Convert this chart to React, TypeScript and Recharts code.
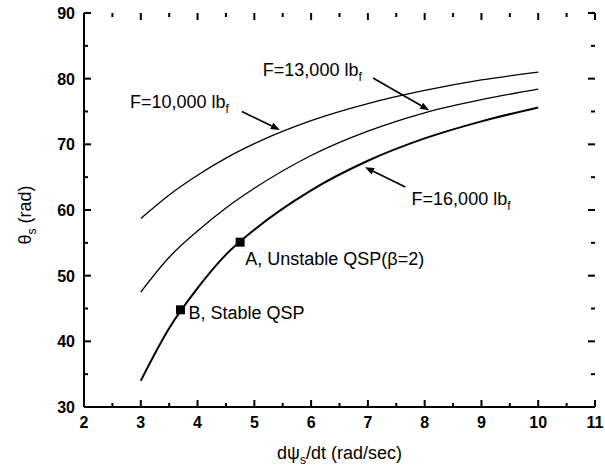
import React from 'react';
import { LineChart, Line, XAxis, YAxis, ReferenceDot, ReferenceLine } from 'recharts';

const FONT = "'Liberation Sans', Arial, Helvetica, sans-serif";

// Shaft angular rate dψs/dt (rad/sec)
const xValues = [3, 3.5, 4, 4.5, 5, 6, 7, 8, 9, 10];
// θs (rad) for each thrust level
const f10000 = [58.7, 62.3, 65.3, 67.9, 70.1, 73.6, 76.2, 78.2, 79.8, 81.0];
const f13000 = [47.5, 52.8, 56.8, 60.3, 63.3, 68.3, 72.0, 74.8, 76.8, 78.4];
const f16000 = [34.0, 42.0, 48.1, 53.2, 57.0, 63.0, 67.5, 70.9, 73.5, 75.6];

const X_MIN = 2;
const X_MAX = 11;
const Y_MIN = 30;
const Y_MAX = 90;
const xMajorTicks = [2, 3, 4, 5, 6, 7, 8, 9, 10, 11];
const xMinorTicks = [2.5, 3.5, 4.5, 5.5, 6.5, 7.5, 8.5, 9.5, 10.5];
const yMajorTicks = [30, 40, 50, 60, 70, 80, 90];
const yMinorTicks = [35, 45, 55, 65, 75, 85];

// QSP points on the F=16,000 curve
const qspX = [4.75, 3.7];
const qspY = [55.1, 44.8];

// Annotation labels
const labelText = ['F=10,000 lb', 'F=13,000 lb', 'F=16,000 lb', 'A, Unstable QSP(β=2)', 'B, Stable QSP'];
const labelSub = ['f', 'f', 'f', '', ''];
const labelX = [2.81, 5.15, 7.77, 4.84, 3.84];
const labelY = [76.4, 81.3, 61.7, 52.5, 44.3];

// Arrows in data units
const arrowStart = [
  [4.78, 75.0],
  [7.09, 80.1],
  [7.66, 63.5],
];
const arrowEnd = [
  [5.45, 72.2],
  [8.08, 75.2],
  [6.95, 66.5],
];

const tableData = xValues.map((x, i) => ({ x, f10: f10000[i], f13: f13000[i], f16: f16000[i] }));

const AXIS_LINE = { stroke: '#000', strokeWidth: 2 };

const BottomLabel = (props: any) => {
  const { x, y, payload } = props;
  return (
    <text x={x} y={y + 21} textAnchor="middle" fontSize={16} fontWeight="bold" fontFamily={FONT} fill="#000">
      {payload.value}
    </text>
  );
};

const LeftLabel = (props: any) => {
  const { x, y, payload } = props;
  return (
    <text x={x - 9} y={y + 6} textAnchor="end" fontSize={16} fontWeight="bold" fontFamily={FONT} fill="#000">
      {payload.value}
    </text>
  );
};

// tick mark drawn from the far end of a segment, pointing inward by (dx, dy) pixels
const tickFromEnd = (dx: number, dy: number) => (p: any) => (
  <line x1={p.x2} y1={p.y2} x2={p.x2 + dx} y2={p.y2 + dy} stroke="#000" strokeWidth={2} />
);

const arrowShape = (p: any) => {
  const { x1, y1, x2, y2 } = p;
  const dx = x2 - x1;
  const dy = y2 - y1;
  const len = Math.sqrt(dx * dx + dy * dy) || 1;
  const ux = dx / len;
  const uy = dy / len;
  const hl = 9;
  const hw = 3.5;
  const bx = x2 - ux * hl;
  const by = y2 - uy * hl;
  const pts = `${x2},${y2} ${bx - uy * hw},${by + ux * hw} ${bx + uy * hw},${by - ux * hw}`;
  return (
    <g>
      <line x1={x1} y1={y1} x2={bx} y2={by} stroke="#000" strokeWidth={1.6} />
      <polygon points={pts} fill="#000" />
    </g>
  );
};

const makeTextShape = (text: string, sub: string) => (p: any) => (
  <text x={p.cx} y={p.cy + 6} fontSize={18} fontFamily={FONT} fill="#000">
    {text}
    {sub && (
      <tspan dy={5} fontSize={12}>
        {sub}
      </tspan>
    )}
  </text>
);

const squareShape = (p: any) => <rect x={p.cx - 4.5} y={p.cy - 4.5} width={9} height={9} fill="#000" />;

export default function App() {
  const frameTicks: React.ReactNode[] = [];
  const addX = (v: number, len: number, tag: string) => {
    // top edge: segment from bottom frame to top frame, tick at top end pointing down
    frameTicks.push(
      <ReferenceLine key={`xt${tag}${v}`} segment={[{ x: v, y: Y_MIN }, { x: v, y: Y_MAX }]} ifOverflow="visible" shape={tickFromEnd(0, len)} />
    );
    // bottom edge: segment from top frame to bottom frame, tick at bottom end pointing up
    frameTicks.push(
      <ReferenceLine key={`xb${tag}${v}`} segment={[{ x: v, y: Y_MAX }, { x: v, y: Y_MIN }]} ifOverflow="visible" shape={tickFromEnd(0, -len)} />
    );
  };
  const addY = (v: number, len: number, tag: string) => {
    frameTicks.push(
      <ReferenceLine key={`yr${tag}${v}`} segment={[{ x: X_MIN, y: v }, { x: X_MAX, y: v }]} ifOverflow="visible" shape={tickFromEnd(-len, 0)} />
    );
    frameTicks.push(
      <ReferenceLine key={`yl${tag}${v}`} segment={[{ x: X_MAX, y: v }, { x: X_MIN, y: v }]} ifOverflow="visible" shape={tickFromEnd(len, 0)} />
    );
  };
  xMajorTicks.forEach((v) => addX(v, 7, 'M'));
  xMinorTicks.forEach((v) => addX(v, 4, 'm'));
  yMajorTicks.forEach((v) => addY(v, 7, 'M'));
  yMinorTicks.forEach((v) => addY(v, 4, 'm'));

  return (
    <div style={{ position: 'fixed', left: 0, top: 0, width: 605, height: 467, background: '#fff' }}>
      <LineChart width={605} height={467} data={tableData} margin={{ top: 13, right: 10, bottom: 0, left: 0 }}>
        <XAxis
          dataKey="x"
          type="number"
          domain={[X_MIN, X_MAX]}
          ticks={xMajorTicks}
          interval={0}
          height={60}
          tickSize={0}
          tickMargin={0}
          tickLine={false}
          axisLine={AXIS_LINE}
          tick={BottomLabel}
          label={{
            content: (lp: any) => {
              const vb = lp.viewBox;
              return (
                <text x={vb.x + vb.width / 2} y={vb.y + 52} textAnchor="middle" fontSize={18} fontFamily={FONT} fill="#000">
                  dψ
                  <tspan dy={5} fontSize={12}>s</tspan>
                  <tspan dy={-5}>/dt (rad/sec)</tspan>
                </text>
              );
            },
          }}
        />
        <XAxis
          xAxisId="top"
          orientation="top"
          dataKey="x"
          type="number"
          domain={[X_MIN, X_MAX]}
          ticks={xMajorTicks}
          height={0}
          tickLine={false}
          axisLine={AXIS_LINE}
          tick={false}
        />
        <YAxis
          type="number"
          domain={[Y_MIN, Y_MAX]}
          ticks={yMajorTicks}
          interval={0}
          width={84}
          tickSize={0}
          tickMargin={0}
          tickLine={false}
          axisLine={AXIS_LINE}
          tick={LeftLabel}
          label={{
            content: () => {
              const cx = 31;
              const cy = 215;
              return (
                <text
                  x={cx}
                  y={cy}
                  transform={`rotate(-90, ${cx}, ${cy})`}
                  textAnchor="middle"
                  fontSize={18}
                  fontFamily={FONT}
                  fill="#000"
                >
                  θ
                  <tspan dy={5} fontSize={12}>s</tspan>
                  <tspan dy={-5}> (rad)</tspan>
                </text>
              );
            },
          }}
        />
        <YAxis
          yAxisId="right"
          orientation="right"
          type="number"
          domain={[Y_MIN, Y_MAX]}
          ticks={yMajorTicks}
          width={0}
          tickLine={false}
          axisLine={AXIS_LINE}
          tick={false}
        />
        {frameTicks}
        <Line type="monotone" dataKey="f10" stroke="#000" strokeWidth={1.3} dot={false} isAnimationActive={false} />
        <Line type="monotone" dataKey="f13" stroke="#000" strokeWidth={1.3} dot={false} isAnimationActive={false} />
        <Line type="monotone" dataKey="f16" stroke="#000" strokeWidth={2} dot={false} isAnimationActive={false} />
        {arrowStart.map((s, i) => (
          <ReferenceLine
            key={`ar${i}`}
            segment={[
              { x: s[0], y: s[1] },
              { x: arrowEnd[i][0], y: arrowEnd[i][1] },
            ]}
            ifOverflow="visible"
            shape={arrowShape}
          />
        ))}
        {qspX.map((x, i) => (
          <ReferenceDot key={`q${i}`} x={x} y={qspY[i]} r={4} ifOverflow="visible" shape={squareShape} />
        ))}
        {labelText.map((t, i) => (
          <ReferenceDot
            key={`l${i}`}
            x={labelX[i]}
            y={labelY[i]}
            r={1}
            ifOverflow="visible"
            shape={makeTextShape(t, labelSub[i])}
          />
        ))}
      </LineChart>
    </div>
  );
}
